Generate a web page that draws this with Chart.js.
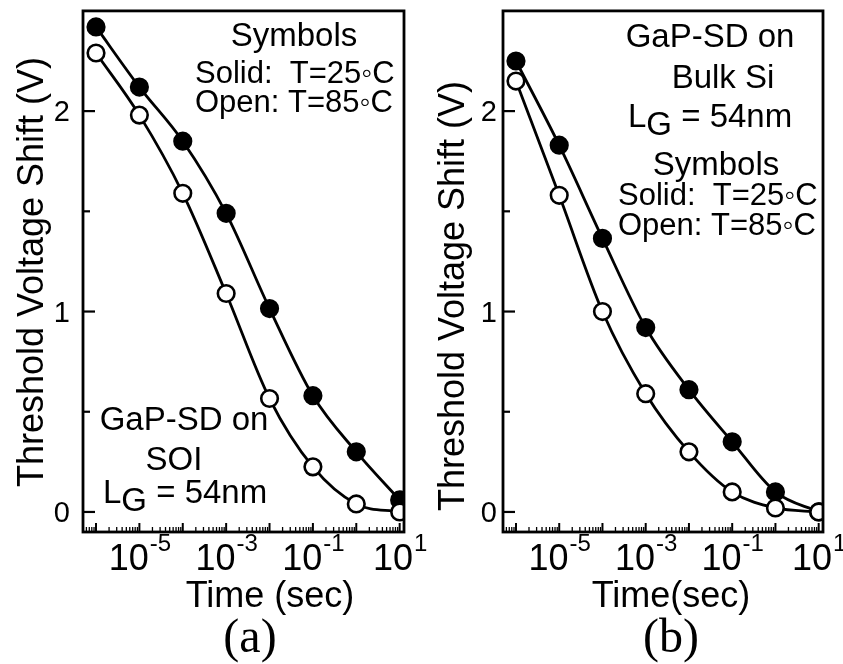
<!DOCTYPE html>
<html>
<head>
<meta charset="utf-8">
<script src="https://cdn.jsdelivr.net/npm/chart.js@4.4.1/dist/chart.umd.min.js"></script>
<style>
  html, body { margin: 0; padding: 0; background: #fff; }
  #wrap { position: relative; width: 843px; height: 664px; }
  #wrap canvas { position: absolute; left: 0; top: 0; }
</style>
</head>
<body>
<div id="wrap">
  <canvas id="soi" width="843" height="664"></canvas>
  <canvas id="bulk" width="843" height="664"></canvas>
</div>
<script>

// stress time (s), one point per decade
const times = [1e-6, 1e-5, 1e-4, 1e-3, 1e-2, 1e-1, 1e0, 1e1];

// threshold voltage shift (V), GaP-SD on SOI
const soiT25 = [2.42, 2.12, 1.85, 1.49, 1.015, 0.58, 0.30, 0.06];
const soiT85 = [2.29, 1.98, 1.59, 1.09, 0.566, 0.225, 0.04, 0.0];

// threshold voltage shift (V), GaP-SD on bulk Si
const bulkT25 = [2.25, 1.83, 1.365, 0.92, 0.61, 0.35, 0.10, 0.0];
const bulkT85 = [2.15, 1.58, 1.0, 0.59, 0.30, 0.10, 0.02, 0.0];

// axis ticks
const xLabelExps = [-5, -3, -1, 1];
const yTicks = [0, 1, 2];
const yMinorTicks = [0.5, 1.5];

// text
const symbolKey = ['Symbols', 'Solid:  T=25\u25E6C', 'Open: T=85\u25E6C'];
const soiNote = ['GaP-SD on', 'SOI'];
const bulkNote = ['GaP-SD on', 'Bulk Si'];
const gateLength = ['L', 'G', ' = 54nm'];

const SANS = '"Liberation Sans", Arial, Helvetica, sans-serif';
const SERIF = '"Liberation Serif", "Times New Roman", serif';

function pts(ys) {
    return times.map((t, i) => ({x: t, y: ys[i]}));
}

function series(ys, fill) {
    return {
        data: pts(ys),
        borderColor: '#000',
        borderWidth: 2.8,
        backgroundColor: fill,
        pointBackgroundColor: fill,
        pointBorderColor: '#000',
        pointBorderWidth: 2.6,
        pointRadius: 8.3,
        cubicInterpolationMode: 'monotone',
        tension: 0.4
    };
}

function text(ctx, str, x, y, size, align, font) {
    ctx.font = `${size}px ${font || SANS}`;
    ctx.textAlign = align || 'left';
    ctx.textBaseline = 'alphabetic';
    ctx.fillText(str, x, y);
}

function drawLG(ctx, x, y, size) {
    ctx.font = `${size}px ${SANS}`;
    ctx.textAlign = 'left';
    ctx.textBaseline = 'alphabetic';
    let cx = x;
    ctx.fillText(gateLength[0], cx, y);
    cx += ctx.measureText(gateLength[0]).width;
    ctx.fillText(gateLength[1], cx, y + 8);
    cx += ctx.measureText(gateLength[1]).width;
    ctx.fillText(gateLength[2], cx, y);
}

function seg(ctx, x1, y1, x2, y2) {
    ctx.beginPath();
    ctx.moveTo(x1, y1);
    ctx.lineTo(x2, y2);
    ctx.stroke();
}

// box, inward ticks, tick labels, titles and notes
const frame = {
    id: 'frame',
    afterDatasetsDraw(chart, args, o) {
        const {ctx, chartArea: a, scales: {x, y}} = chart;
        ctx.save();
        ctx.strokeStyle = '#000';
        ctx.fillStyle = '#000';
        ctx.lineWidth = 2.8;
        ctx.strokeRect(a.left, a.top, a.right - a.left, a.bottom - a.top);

        ctx.lineWidth = 2.2;
        yTicks.forEach(v => {
            const py = y.getPixelForValue(v);
            seg(ctx, a.left, py, a.left + 12, py);
            text(ctx, String(v), o.yLabelRight, py + 10, 29, 'right');
        });
        yMinorTicks.forEach(v => {
            const py = y.getPixelForValue(v);
            seg(ctx, a.left, py, a.left + 7, py);
        });

        for (let d = -7; d <= 1; d++) {
            for (let m = 1; m <= 9; m++) {
                const v = m * Math.pow(10, d);
                if (v < x.min || v > x.max) continue;
                const px = x.getPixelForValue(v);
                ctx.lineWidth = m === 1 ? 2 : 1.3;
                seg(ctx, px, a.bottom, px, a.bottom - (m === 1 ? 9 : 5));
            }
        }

        xLabelExps.forEach(e => {
            const px = x.getPixelForValue(Math.pow(10, e));
            ctx.font = `36px ${SANS}`;
            const wBase = ctx.measureText('10').width;
            ctx.font = `24px ${SANS}`;
            const sup = e < 0 ? '-' + Math.abs(e) : String(e);
            const wSup = ctx.measureText(sup).width;
            const left = px - (wBase + wSup) / 2;
            text(ctx, '10', left, 570, 36);
            text(ctx, sup, left + wBase + 1, 551, 24);
        });

        // axis titles
        text(ctx, o.xTitle, o.xTitleX, 607, 36, 'center');
        ctx.save();
        ctx.translate(o.yTitleX, o.yTitleY);
        ctx.rotate(-Math.PI / 2);
        text(ctx, 'Threshold Voltage Shift (V)', 0, 0, 36, 'center');
        ctx.restore();
        text(ctx, o.letter, o.letterX, 652, 48, 'center', SERIF);

        o.draw(ctx);
        ctx.restore();
    }
};

function makeChart(id, t85, t25, pad, opts) {
    return new Chart(document.getElementById(id), {
        type: 'line',
        data: {datasets: [series(t85, '#fff'), series(t25, '#000')]},
        options: {
            responsive: false,
            devicePixelRatio: 1,
            animation: false,
            events: [],
            layout: {padding: pad},
            plugins: {legend: {display: false}, tooltip: {enabled: false}, frame: opts},
            scales: {
                x: {type: 'logarithmic', min: Math.pow(10, -6.3), max: Math.pow(10, 1.1), display: false},
                y: {type: 'linear', min: -0.1, max: 2.5, display: false}
            }
        },
        plugins: [frame]
    });
}

makeChart('soi', soiT85, soiT25, {left: 83, right: 439, top: 10, bottom: 132}, {
    yLabelRight: 70, yTitleX: 43, yTitleY: 272,
    xTitle: 'Time (sec)', xTitleX: 270, letter: '(a)', letterX: 250,
    draw(ctx) {
        text(ctx, symbolKey[0], 294, 46, 33, 'center');
        text(ctx, symbolKey[1], 195, 83, 31);
        text(ctx, symbolKey[2], 195, 112, 31);
        text(ctx, soiNote[0], 184, 430, 33, 'center');
        text(ctx, soiNote[1], 174, 470, 33, 'center');
        drawLG(ctx, 103, 503, 33);
    }
});

makeChart('bulk', bulkT85, bulkT25, {left: 503, right: 20, top: 10, bottom: 132}, {
    yLabelRight: 497, yTitleX: 464, yTitleY: 296,
    xTitle: 'Time(sec)', xTitleX: 671, letter: '(b)', letterX: 671,
    draw(ctx) {
        text(ctx, bulkNote[0], 710, 47, 33, 'center');
        text(ctx, bulkNote[1], 723, 88, 33, 'center');
        drawLG(ctx, 628, 127, 33);
        text(ctx, symbolKey[0], 716, 175, 33, 'center');
        text(ctx, symbolKey[1], 618, 205, 31);
        text(ctx, symbolKey[2], 618, 235, 31);
    }
});

</script>
</body>
</html>
